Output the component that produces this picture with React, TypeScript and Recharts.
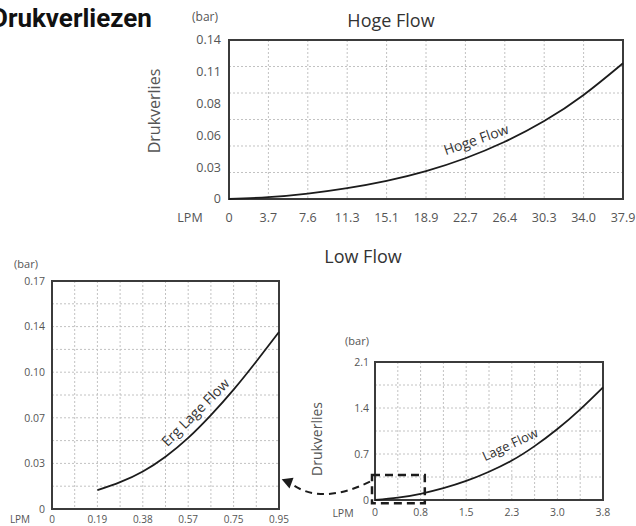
import { LineChart, Line, XAxis, YAxis, CartesianGrid, ReferenceArea } from 'recharts'

// Hoge Flow (top chart)
const hogeLpm = [0, 3.79, 7.58, 11.37, 15.16, 18.95, 22.74, 26.53, 30.32, 34.11, 37.9]
const hogeBar = [0, 0.0016, 0.0048, 0.0096, 0.016, 0.0246, 0.0359, 0.0504, 0.0686, 0.0916, 0.1195]
const hogeXTicks = [0, 3.79, 7.58, 11.37, 15.16, 18.95, 22.74, 26.53, 30.32, 34.11, 37.9]
const hogeXLabels = ['0', '3.7', '7.6', '11.3', '15.1', '18.9', '22.7', '26.4', '30.3', '34.0', '37.9']
const hogeYTicks = [0, 0.028, 0.056, 0.084, 0.112, 0.14]
const hogeYLabels = ['0', '0.03', '0.06', '0.08', '0.11', '0.14']
const hogeGridY = [0, 0.02333, 0.04667, 0.07, 0.09333, 0.11667, 0.14]

// Erg Lage Flow (bottom left)
const ergLpm = [0.19, 0.285, 0.38, 0.475, 0.57, 0.665, 0.76, 0.855, 0.95]
const ergBar = [0.014, 0.02, 0.028, 0.039, 0.053, 0.07, 0.089, 0.11, 0.132]
const ergXTicks = [0, 0.095, 0.19, 0.285, 0.38, 0.475, 0.57, 0.665, 0.76, 0.855, 0.95]
const ergXLabels = ['0', '', '0.19', '', '0.38', '', '0.57', '', '0.75', '', '0.95']
const ergYTicks = [0, 0.017, 0.034, 0.051, 0.068, 0.085, 0.102, 0.119, 0.136, 0.153, 0.17]
const ergYLabels = ['0', '', '0.03', '', '0.07', '', '0.10', '', '0.14', '', '0.17']

// Lage Flow (bottom right)
const lageLpm = [0, 0.38, 0.76, 1.14, 1.52, 1.9, 2.28, 2.66, 3.04, 3.42, 3.8]
const lageBar = [0, 0.035, 0.095, 0.18, 0.29, 0.43, 0.6, 0.82, 1.08, 1.38, 1.715]
const lageXTicks = [0, 0.38, 0.76, 1.14, 1.52, 1.9, 2.28, 2.66, 3.04, 3.42, 3.8]
const lageXLabels = ['0', '', '0.8', '', '1.5', '', '2.3', '', '3.0', '', '3.8']
const lageYTicks = [0, 0.35, 0.7, 1.05, 1.4, 1.75, 2.1]
const lageYLabels = ['0', '', '0.7', '', '1.4', '', '2.1']

const hogeData = hogeLpm.map((x, i) => ({ lpm: x, bar: hogeBar[i] }))
const ergData = ergLpm.map((x, i) => ({ lpm: x, bar: ergBar[i] }))
const lageData = lageLpm.map((x, i) => ({ lpm: x, bar: lageBar[i] }))

const GRID = '#c2c2c2'
const FRAME = '#3b3b3b'
const INK = '#1c1c1c'
const MUTED = '#555'

export default function App() {
  return (
    <div style={{ position: 'absolute', left: 0, top: 0, width: 636, height: 526, background: '#fff', fontFamily: "'Open Sans', sans-serif", overflow: 'hidden' }}>
      {/* top: Hoge Flow */}
      <div style={{ position: 'absolute', left: 0, top: 0 }}>
        <LineChart width={636} height={232} data={hogeData} margin={{ top: 40, right: 13, left: 169, bottom: 3 }}>
          <CartesianGrid stroke={GRID} strokeDasharray="2 2" horizontalValues={hogeGridY} />
          <XAxis type="number" dataKey="lpm" domain={[0, 37.9]} ticks={hogeXTicks} interval={0}
            tickFormatter={(v, i) => hogeXLabels[i]} axisLine={false} tickLine={false} tickSize={0} tickMargin={14} height={30}
            tick={{ fill: MUTED, fontSize: 12.5 }} />
          <YAxis type="number" domain={[0, 0.14]} ticks={hogeYTicks} interval={0}
            tickFormatter={(v, i) => hogeYLabels[i]} axisLine={false} tickLine={false} tickSize={0} tickMargin={8} width={60}
            tick={{ fill: MUTED, fontSize: 12.5 }} />
          <ReferenceArea x1={0} x2={37.9} y1={0} y2={0.14} fill="none" stroke={FRAME} strokeWidth={2} />
          <Line type="natural" dataKey="bar" stroke={INK} strokeWidth={1.8} dot={false} isAnimationActive={false} />
        </LineChart>
      </div>

      {/* bottom left: Erg Lage Flow */}
      <div style={{ position: 'absolute', left: 0, top: 240 }}>
        <LineChart width={300} height={286} data={ergData} margin={{ top: 41, right: 21, left: 12, bottom: 0 }} style={{ overflow: 'visible' }}>
          <CartesianGrid stroke={GRID} strokeDasharray="2 2" />
          <XAxis type="number" dataKey="lpm" domain={[0, 0.95]} ticks={ergXTicks} interval={0}
            tickFormatter={(v, i) => ergXLabels[i]} axisLine={false} tickLine={false} tickSize={0} tickMargin={7} height={17}
            tick={{ fill: MUTED, fontSize: 10 }} />
          <YAxis type="number" domain={[0, 0.17]} ticks={ergYTicks} interval={0}
            tickFormatter={(v, i) => ergYLabels[i]} axisLine={false} tickLine={false} tickSize={0} tickMargin={7} width={40}
            tick={{ fill: MUTED, fontSize: 10.5 }} />
          <ReferenceArea x1={0} x2={0.95} y1={0} y2={0.17} fill="none" stroke={FRAME} strokeWidth={2} />
          <Line type="natural" dataKey="bar" stroke={INK} strokeWidth={1.8} dot={false} isAnimationActive={false} />
        </LineChart>
      </div>

      {/* bottom right: Lage Flow */}
      <div style={{ position: 'absolute', left: 300, top: 300 }}>
        <LineChart width={336} height={226} data={lageData} margin={{ top: 62, right: 33, left: 45, bottom: 6 }}>
          <CartesianGrid stroke={GRID} strokeDasharray="2 2" />
          <XAxis type="number" dataKey="lpm" domain={[0, 3.8]} ticks={lageXTicks} interval={0}
            tickFormatter={(v, i) => lageXLabels[i]} axisLine={false} tickLine={false} tickSize={0} tickMargin={9} height={20}
            tick={{ fill: MUTED, fontSize: 10.5 }} />
          <YAxis type="number" domain={[0, 2.1]} ticks={lageYTicks} interval={0}
            tickFormatter={(v, i) => lageYLabels[i]} axisLine={false} tickLine={false} tickSize={0} tickMargin={6} width={30}
            tick={{ fill: MUTED, fontSize: 10.5 }} />
          <ReferenceArea x1={0} x2={3.8} y1={0} y2={2.1} fill="none" stroke={FRAME} strokeWidth={2} />
          <ReferenceArea x1={-0.05} x2={0.83} y1={-0.05} y2={0.38} ifOverflow="visible" fill="none"
            stroke={INK} strokeWidth={2.5} strokeDasharray="8 5" />
          <Line type="natural" dataKey="bar" stroke={INK} strokeWidth={1.8} dot={false} isAnimationActive={false} />
        </LineChart>
      </div>

      {/* titles, units and annotations */}
      <svg width={636} height={526} style={{ position: 'absolute', left: 0, top: 0, pointerEvents: 'none' }}>
        <text x={-9} y={27} fontFamily="Roboto, sans-serif" fontWeight={700} fontSize={26} fill="#111">Drukverliezen</text>
        <text x={205} y={21} textAnchor="middle" fontSize={12} fill={MUTED}>(bar)</text>
        <text x={391} y={27} textAnchor="middle" fontSize={18} fill="#333">Hoge Flow</text>
        <text x={154} y={111} textAnchor="middle" dominantBaseline="central" fontSize={16} fill={MUTED} transform="rotate(-90 154 111)">Drukverlies</text>
        <text x={190} y={217} textAnchor="middle" dominantBaseline="central" fontSize={12.5} fill={MUTED}>LPM</text>
        <text x={476} y={139} textAnchor="middle" dominantBaseline="central" fontSize={14} fill="#333" transform="rotate(-19 476 139)">Hoge Flow</text>

        <text x={363} y={256} textAnchor="middle" dominantBaseline="central" fontSize={18} fill="#333">Low Flow</text>
        <text x={26} y={263} textAnchor="middle" dominantBaseline="central" fontSize={11} fill={MUTED}>(bar)</text>
        <text x={20} y={519} textAnchor="middle" dominantBaseline="central" fontSize={10} fill={MUTED}>LPM</text>
        <text x={195} y={412} textAnchor="middle" dominantBaseline="central" fontSize={14} fill="#333" transform="rotate(-45 195 412)">Erg Lage Flow</text>

        <text x={357} y={340} textAnchor="middle" dominantBaseline="central" fontSize={11} fill={MUTED}>(bar)</text>
        <text x={316} y={439} textAnchor="middle" dominantBaseline="central" fontSize={14} fill={MUTED} transform="rotate(-90 316 439)">Drukverlies</text>
        <text x={343} y={513} textAnchor="middle" dominantBaseline="central" fontSize={10.5} fill={MUTED}>LPM</text>
        <text x={510} y={444} textAnchor="middle" dominantBaseline="central" fontSize={13} fill="#333" transform="rotate(-25 510 444)">Lage Flow</text>

        <path d="M370 481.7 Q322.5 504.7 293 485" fill="none" stroke={INK} strokeWidth={2} strokeDasharray="7 5" />
        <polygon points="281.7,479.3 293.5,477.8 289.5,488.5" fill={INK} />
      </svg>
    </div>
  )
}
